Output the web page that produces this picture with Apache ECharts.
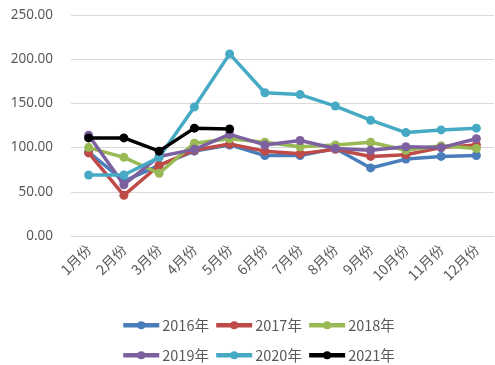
<!DOCTYPE html>
<html><head><meta charset="utf-8">
<script src="https://cdn.jsdelivr.net/npm/echarts@6/dist/echarts.min.js"></script>
<style>html,body{margin:0;padding:0;background:#fff}#c{width:495px;height:365px}</style>
</head><body><div id="c"></div>
<script>
const categories = ['1月份','2月份','3月份','4月份','5月份','6月份','7月份','8月份','9月份','10月份','11月份','12月份'];
const yTicks = [0, 50, 100, 150, 200, 250];
const s2016 = [95, 62, 80, 96, 103, 91, 91, 99, 77, 87, 90, 91];
const s2017 = [94, 46, 80, 97, 104, 96, 93, 98, 90, 92, 100, 103];
const s2018 = [100, 89, 71, 105, 110, 106, 101, 103, 106, 97, 102, 99];
const s2019 = [114, 58, 90, 98, 115, 103, 108, 99, 97, 101, 100, 110];
const s2020 = [69, 69, 89, 146, 206, 162, 160, 147, 131, 117, 120, 122];
const s2021 = [111, 111, 96, 122, 121];
const names = ['2016年','2017年','2018年','2019年','2020年','2021年'];
const colors = ['#4A7EBB','#BE4B48','#98B954','#7D60A0','#46AAC5','#000000'];
const datas = [s2016, s2017, s2018, s2019, s2020, s2021];

const chart = echarts.init(document.getElementById('c'));
const legendCommon = {
  itemWidth: 36, itemHeight: 10, itemGap: 5, padding: 0,
  lineStyle: {width: 4.5},
  textStyle: {color: '#595959', fontSize: 14.5, fontFamily: 'Noto Sans CJK SC', padding: [0,0,0,-2]},
  left: 121
};
chart.setOption({
  animation: false,
  grid: {left: 71, right: 1, top: 15, bottom: 129},
  legend: [
    Object.assign({}, legendCommon, {data: names.slice(0,3), top: 318}),
    Object.assign({}, legendCommon, {data: names.slice(3), top: 348})
  ],
  xAxis: {
    type: 'category', data: categories, boundaryGap: true,
    axisLine: {lineStyle: {color: '#D9D9D9'}},
    axisTick: {show: false},
    axisLabel: {rotate: 45, color: '#595959', fontSize: 14, margin: 11, interval: 0, fontFamily: 'Noto Sans CJK SC'}
  },
  yAxis: {
    type: 'value', min: yTicks[0], max: yTicks[yTicks.length-1], interval: 50,
    axisLine: {show: false}, axisTick: {show: false},
    splitLine: {lineStyle: {color: '#D9D9D9'}},
    axisLabel: {color: '#595959', fontSize: 13.5, margin: 18, formatter: v => v.toFixed(2), fontFamily: 'Noto Sans'}
  },
  series: names.map((n, i) => ({
    name: n, type: 'line', data: datas[i],
    color: colors[i],
    lineStyle: {width: 3.5, color: colors[i]},
    itemStyle: {color: colors[i]},
    symbol: 'circle', symbolSize: 9,
    z: i === 5 ? 10 : (i === 4 ? 9 : 2 + i)
  }))
});
</script></body></html>
